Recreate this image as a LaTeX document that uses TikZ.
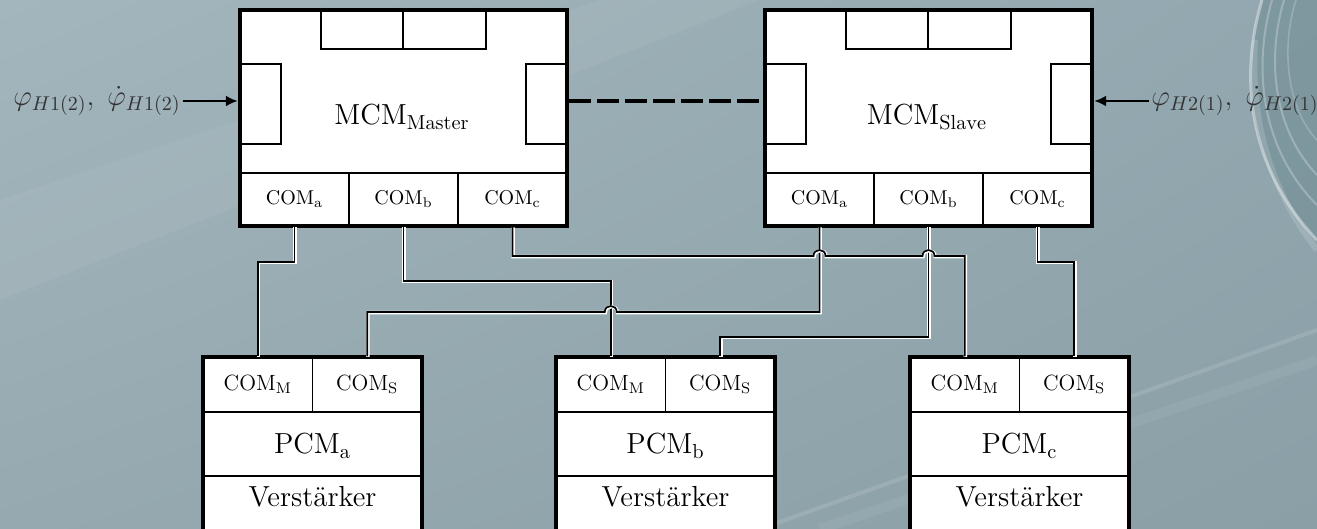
\documentclass[tikz,border=0pt]{standalone}
\usepackage{fontspec}
\usetikzlibrary{arrows.meta,shadings}
\definecolor{bgUL}{RGB}{164,182,189}
\definecolor{bgUR}{RGB}{146,167,175}
\definecolor{bgLL}{RGB}{150,169,176}
\definecolor{bgLR}{RGB}{138,159,166}
\definecolor{swirl}{RGB}{108,138,146}
\tikzset{
  thinline/.style={draw=black, line width=0.7pt},
  outerbox/.style={draw=black, line width=2.2pt, inner sep=0pt},
  outerline/.style={draw=black, line width=2.2pt},
  comcell/.style={draw=black, line width=0.7pt, minimum width=54.5pt, minimum height=26.5pt, inner sep=0pt, font=\fontsize{10}{12}\selectfont},
  pcell/.style={draw=black, line width=0.7pt, minimum width=54.75pt, minimum height=27.5pt, inner sep=0pt, font=\fontsize{11}{13}\selectfont},
  bigtext/.style={inner sep=0pt, font=\fontsize{14.5}{17}\selectfont},
  lbl/.style={inner sep=1pt, font=\fontsize{14.5}{17}\selectfont, text=black!80},
  wire/.style={line width=0.85pt, draw=black, preaction={draw=white, line width=1.7pt, transform canvas={shift={(0.3pt,-0.3pt)}}}},
  inarrow/.style={line width=1.2pt, -{Latex[length=6pt,width=5.5pt]}},
  dashline/.style={line width=1.7pt, dash pattern=on 11pt off 3pt}
}
\newcommand{\mcmunit}[3]{%
  \fill[white] (#1,10) rectangle ++(327,216);
  \draw[thinline] (#1+81,10) rectangle (#1+163,49);
  \draw[thinline] (#1+163,10) rectangle (#1+246,49);
  \draw[thinline] (#1,64) rectangle (#1+41,144);
  \draw[thinline] (#1+286,64) rectangle (#1+327,144);
  \node[comcell] (#2A) at (#1+54.5,199.5) {COM$_\mathrm{a}$};
  \node[comcell] (#2B) at (#1+163.5,199.5) {COM$_\mathrm{b}$};
  \node[comcell] (#2C) at (#1+272.5,199.5) {COM$_\mathrm{c}$};
  \node[bigtext] (#2L) at (#1+162,117) {MCM$_\mathrm{#3}$};
  \node[outerbox, minimum width=163.5pt, minimum height=108pt] (#2) at (#1+163.5,118) {};
}
\newcommand{\pcmunit}[3]{%
  \fill[white] (#1,357) rectangle (#1+219,560);
  \node[pcell] (#2M) at (#1+54.75,384.5) {COM$_\mathrm{M}$};
  \node[pcell] (#2S) at (#1+164.25,384.5) {COM$_\mathrm{S}$};
  \node[bigtext] (#2P) at (#1+109.5,446) {PCM$_\mathrm{#3}$};
  \node[bigtext] (#2V) at (#1+109.5,497) {Verstärker};
  \draw[line width=1.3pt] (#1,476) -- (#1+219,476);
  \draw[outerline] (#1,560) -- (#1,357) -- (#1+219,357) -- (#1+219,560);
}
\begin{document}
\begin{tikzpicture}[x=0.5pt,y=-0.5pt]
\useasboundingbox (0,0) rectangle (1317,529);
\clip (0,0) rectangle (1317,529);
% background
\shade[upper left=bgUL, upper right=bgUR, lower left=bgLL, lower right=bgLR] (0,0) rectangle (1317,529);
\fill[white, opacity=0.05] (0,200) -- (600,0) -- (760,0) -- (0,300) -- cycle;
\draw[white, opacity=0.12, line width=2pt] (760,529) -- (1317,330);
\draw[white, opacity=0.06, line width=5pt] (820,529) -- (1317,360);
% swirl
\fill[swirl, opacity=0.5] (1262,0) .. controls (1238,80) and (1250,170) .. (1317,240) -- (1317,0) -- cycle;
\draw[white, opacity=0.40, line width=1.5pt] (1262,0) .. controls (1238,80) and (1250,170) .. (1317,240);
\draw[white, opacity=0.25, line width=1pt] (1272,0) .. controls (1252,70) and (1262,150) .. (1317,205);
\draw[white, opacity=0.25, line width=1pt] (1284,0) .. controls (1266,60) and (1274,130) .. (1317,175);
\draw[white, opacity=0.20, line width=0.8pt] (1296,0) .. controls (1280,50) and (1288,110) .. (1317,140);
\draw[white, opacity=0.15, line width=3pt] (1255,40) .. controls (1250,120) and (1270,190) .. (1317,250);

% MCM boxes
\mcmunit{240}{m}{Master}
\mcmunit{765}{s}{Slave}

% PCM boxes
\pcmunit{203}{pa}{a}
\pcmunit{556}{pb}{b}
\pcmunit{910}{pc}{c}

% inputs
\node[lbl, anchor=east] (inL) at (183,101) {$\varphi_{H1(2)},\;\dot{\varphi}_{H1(2)}$};
\node[lbl, anchor=west] (inR) at (1149,101) {$\varphi_{H2(1)},\;\dot{\varphi}_{H2(1)}$};
\draw[inarrow] (inL.east) -- (inL.east -| m.west);
\draw[inarrow] (inR.west) -- (inR.west -| s.east);
\draw[dashline] (inL.east -| m.east) -- (inL.east -| s.west);

% wires
\draw[wire] (mA.south) -- ++(0,35) -| (paM.north);
\draw[wire] (mB.south) -- ++(0,54) -| (pbM.north);
\draw[wire] (sB.south) -- ++(0,110) -| (pbS.north);
\draw[wire] (sC.south) -- ++(0,35) -| (pcS.north);
\draw[wire] (sA.south) -- (819.5,312) -- (616.75,312) .. controls (616.75,304) and (604.75,304) .. (604.75,312) -| (paS.north);
\draw[wire] (mC.south) -- (512.5,256) -- (813.5,256) .. controls (813.5,248) and (825.5,248) .. (825.5,256)
  -- (922.5,256) .. controls (922.5,248) and (934.5,248) .. (934.5,256) -| (pcM.north);
\end{tikzpicture}
\end{document}
